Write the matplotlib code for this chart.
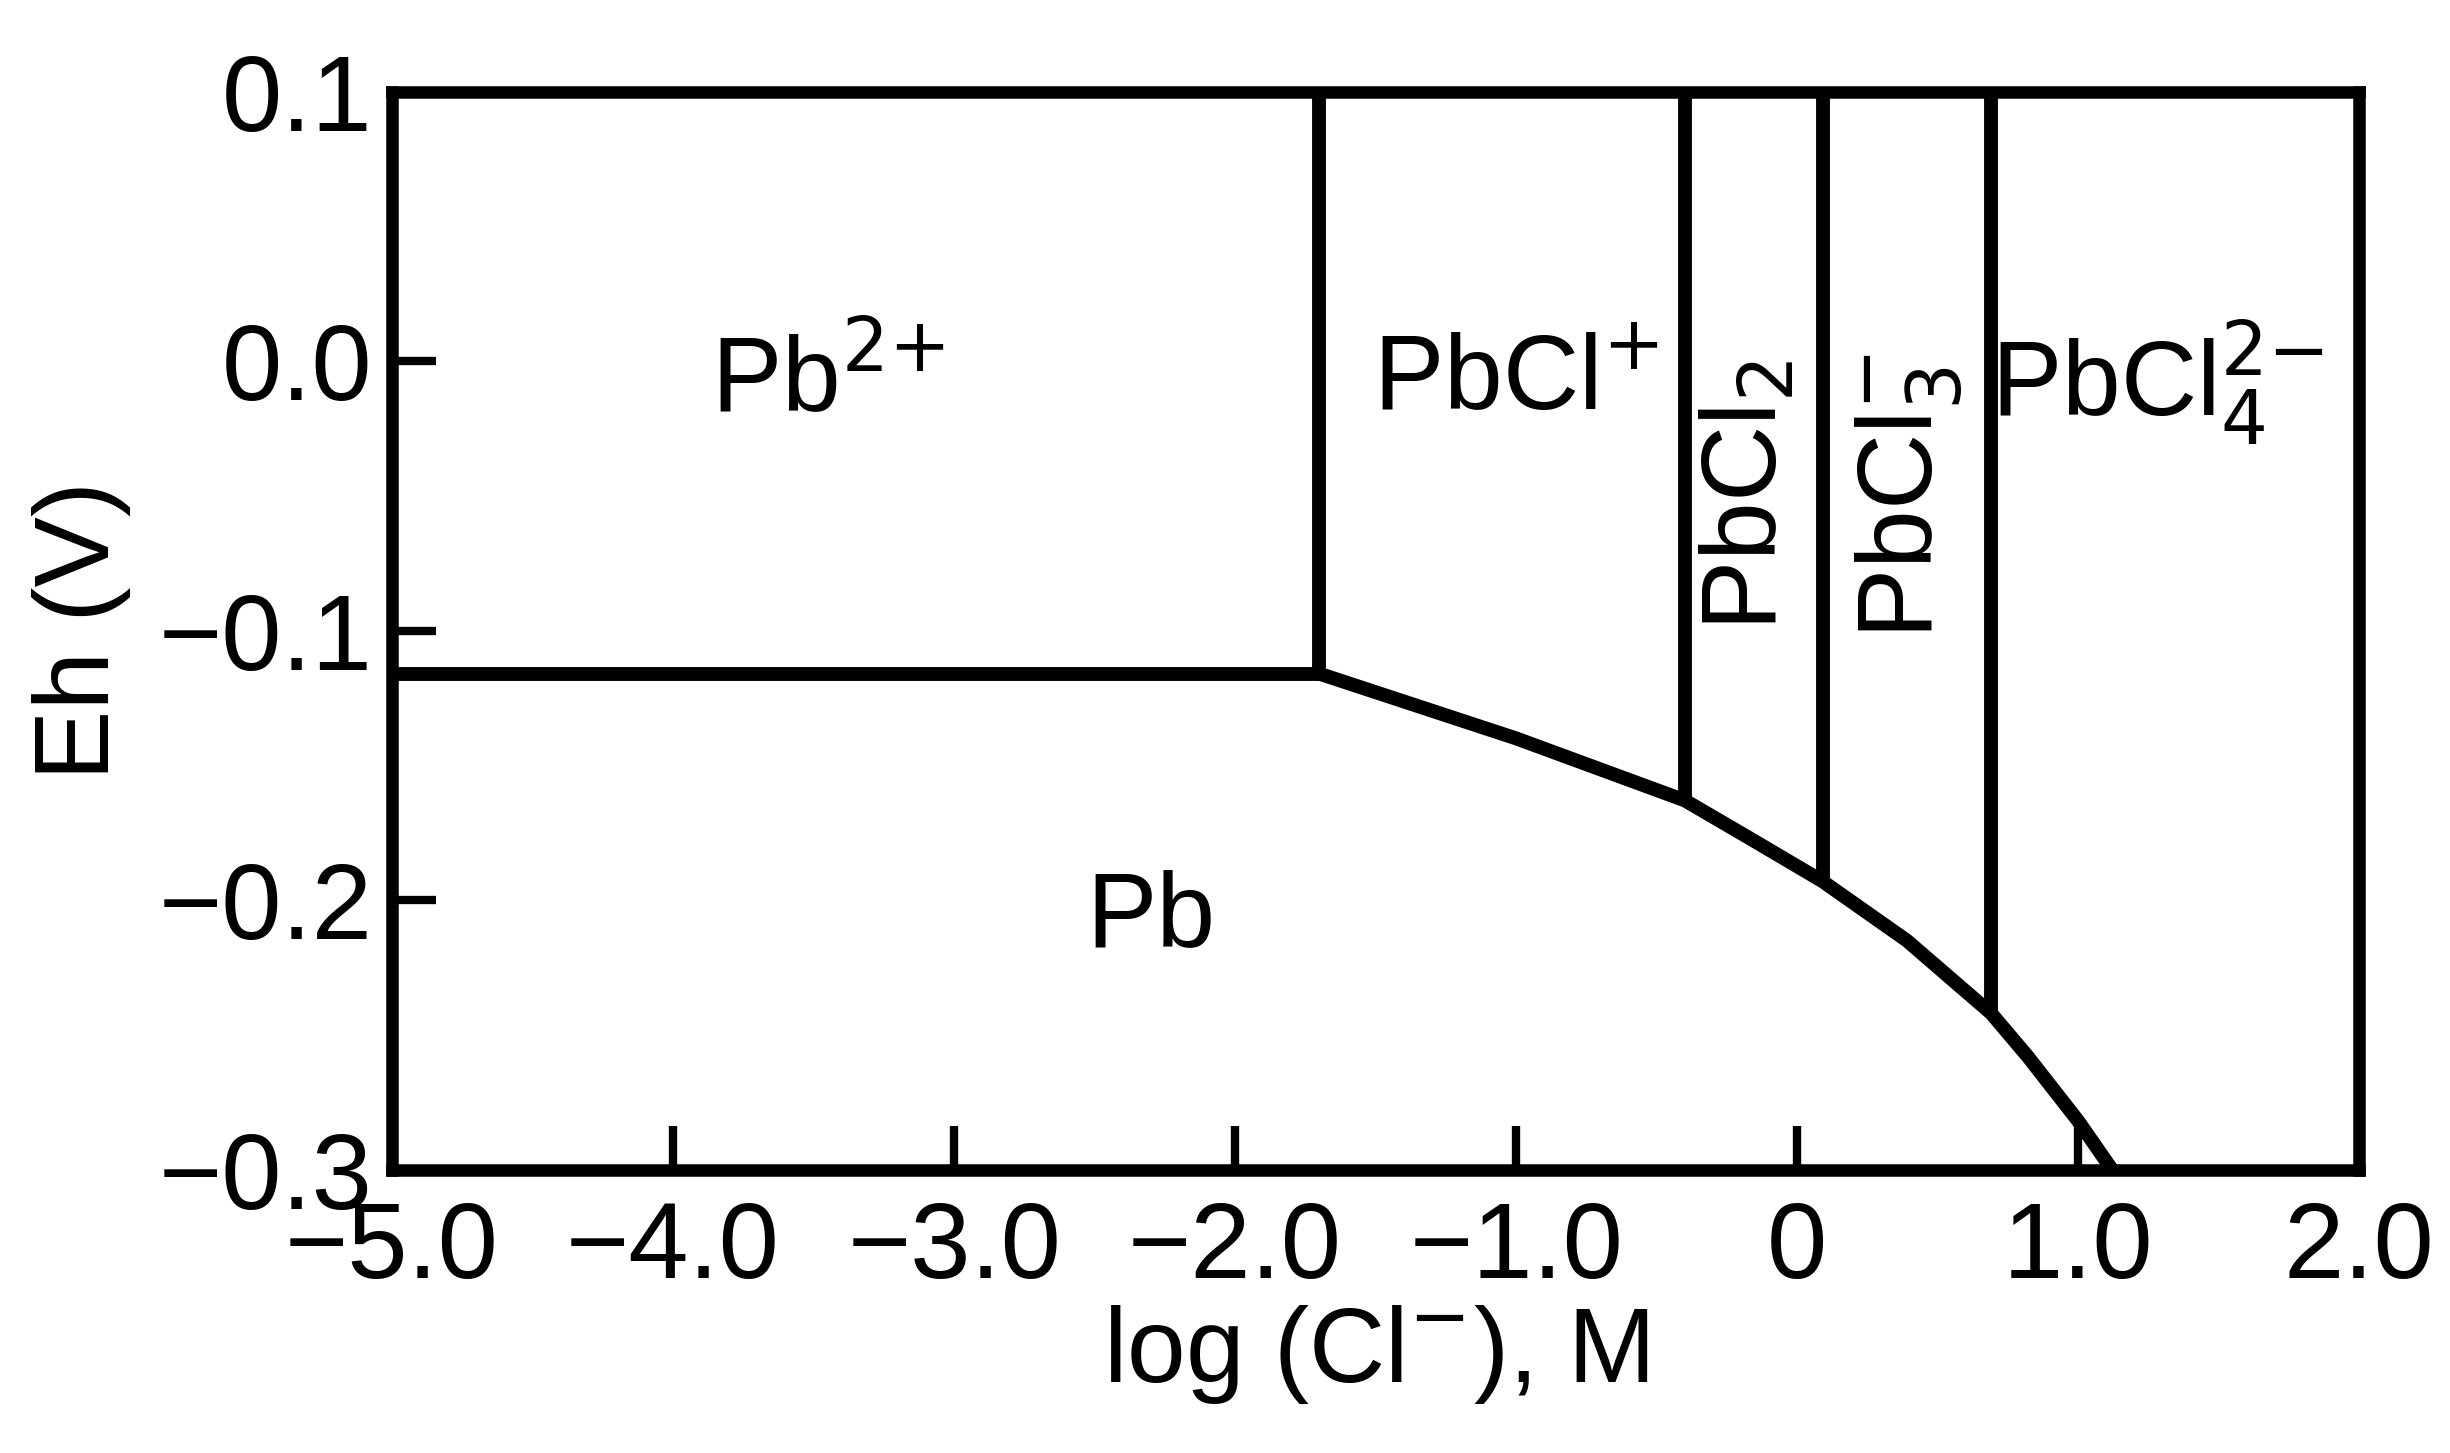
import matplotlib
matplotlib.use("Agg")
import matplotlib.pyplot as plt

plt.rcParams['font.family'] = ['Liberation Sans Narrow', 'Liberation Sans', 'DejaVu Sans']

# boundary data
hline_x = [-5.0, -1.70]
hline_y = [-0.116, -0.116]
curve_x = [-1.70, -1.00, -0.40, -0.17, 0.09, 0.39, 0.69, 0.82, 1.00, 1.12]
curve_y = [-0.116, -0.140, -0.163, -0.177, -0.193, -0.215, -0.242, -0.258, -0.282, -0.300]
vert_x = [-1.70, -0.40, 0.09, 0.69]
vert_ybot = [-0.116, -0.163, -0.193, -0.242]

xticks = [-5.0, -4.0, -3.0, -2.0, -1.0, 0, 1.0, 2.0]
xticklabels = ['\u22125.0', '\u22124.0', '\u22123.0', '\u22122.0', '\u22121.0', '0', '1.0', '2.0']
yticks = [0.1, 0.0, -0.1, -0.2, -0.3]
yticklabels = ['0.1', '0.0', '\u22120.1', '\u22120.2', '\u22120.3']

fig = plt.figure(figsize=(24.5, 14.53), dpi=100)
ax = fig.add_axes([0.160, 0.195, 0.803, 0.742])
lw = 10
ax.plot(hline_x, hline_y, color='black', lw=lw, solid_capstyle='butt')
ax.plot(curve_x, curve_y, color='black', lw=lw, solid_joinstyle='round')
for x, yb in zip(vert_x, vert_ybot):
    ax.plot([x, x], [yb, 0.1], color='black', lw=lw, solid_capstyle='butt')

ax.set_xlim(-5, 2)
ax.set_ylim(-0.3, 0.1)
ax.set_xticks(xticks)
ax.set_xticklabels(xticklabels)
ax.set_yticks(yticks)
ax.set_yticklabels(yticklabels)
ax.tick_params(direction='in', length=32, width=6, labelsize=78)
ax.tick_params(axis='x', pad=22)
ax.tick_params(axis='y', pad=14)
for s in ax.spines.values():
    s.set_linewidth(9)

fs = 76
ax.text(-3.45, -0.008, 'Pb$^{2{+}}$', fontsize=fs, ha='center', va='center')
ax.text(-1.0, -0.008, 'PbCl$^{+}$', fontsize=fs, ha='center', va='center')
ax.text(-0.17, -0.05, 'PbCl$_{2}$', fontsize=fs, ha='center', va='center', rotation=90)
ax.text(0.40, -0.05, 'PbCl$_{3}^{-}$', fontsize=fs, ha='center', va='center', rotation=90)
ax.text(1.28, -0.008, 'PbCl$_{4}^{2{-}}$', fontsize=fs, ha='center', va='center')
ax.text(-2.3, -0.207, 'Pb', fontsize=fs, ha='center', va='center')

ax.set_xlabel('log (Cl$^{-}$), M', fontsize=76, labelpad=2)
ax.set_ylabel('Eh (V)', fontsize=76, labelpad=20)

fig.savefig('out.png', dpi=100)
